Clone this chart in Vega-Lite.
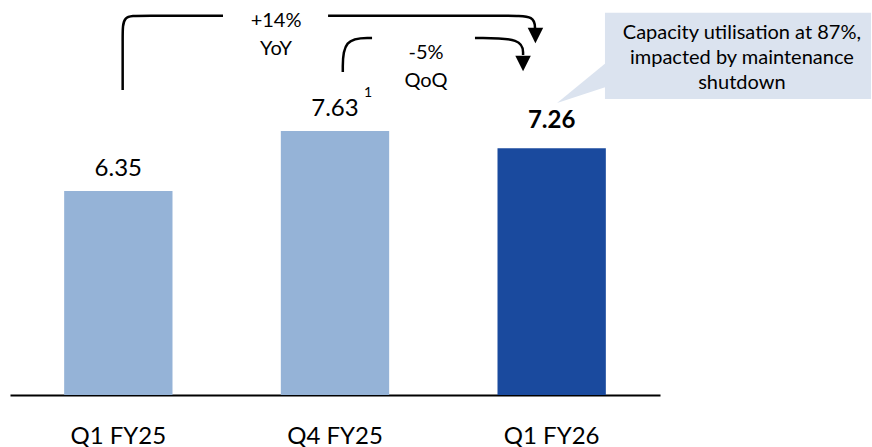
{
  "$schema": "https://vega.github.io/schema/vega-lite/v6.json",
  "width": 650,
  "height": 395,
  "autosize": {"type": "none"},
  "padding": {"left": 10, "top": 0, "right": 212, "bottom": 52},
  "background": "white",
  "config": {"view": {"stroke": null}, "font": "Lato"},
  "datasets": {
    "bars": [
      {"period": "Q1 FY25", "value": 6.35, "kind": "prior", "note": ""},
      {"period": "Q4 FY25", "value": 7.63, "kind": "prior", "note": "1"},
      {"period": "Q1 FY26", "value": 7.26, "kind": "current", "note": ""}
    ],
    "arrows": [
      {"id": "yoyL", "k": 1, "x": 0.020, "y": 8.502},
      {"id": "yoyL", "k": 2, "x": 0.020, "y": 9.674},
      {"id": "yoyL", "k": 3, "x": 0.020, "y": 10.086},
      {"id": "yoyL", "k": 4, "x": 0.100, "y": 10.086},
      {"id": "yoyL", "k": 5, "x": 0.483, "y": 10.086},
      {"id": "yoyR", "k": 1, "x": 0.968, "y": 10.086},
      {"id": "yoyR", "k": 2, "x": 1.808, "y": 10.086},
      {"id": "yoyR", "k": 3, "x": 1.923, "y": 10.086},
      {"id": "yoyR", "k": 4, "x": 1.923, "y": 9.781},
      {"id": "qoqL", "k": 1, "x": 1.036, "y": 8.886},
      {"id": "qoqL", "k": 2, "x": 1.036, "y": 9.610},
      {"id": "qoqL", "k": 3, "x": 1.171, "y": 9.610},
      {"id": "qoqR", "k": 1, "x": 1.646, "y": 9.610},
      {"id": "qoqR", "k": 2, "x": 1.868, "y": 9.610},
      {"id": "qoqR", "k": 3, "x": 1.868, "y": 9.248}
    ],
    "heads": [
      {"id": "yoy", "x": 1.925, "y": 9.664},
      {"id": "qoq", "x": 1.868, "y": 9.067}
    ],
    "box": [{"x": 2.246, "x2": 3.474, "y": 10.150, "y2": 8.310}],
    "pointer": [
      {"x": 2.025, "y": 8.225, "y2": 8.225},
      {"x": 2.250, "y": 9.077, "y2": 8.566}
    ],
    "changes": [
      {"t": "+14%", "x": 0.728, "y": 9.834},
      {"t": "YoY", "x": 0.728, "y": 9.248},
      {"t": "-5%", "x": 1.420, "y": 9.163},
      {"t": "QoQ", "x": 1.420, "y": 8.566}
    ],
    "callout": [
      {"t": "Capacity utilisation at 87%,", "x": 2.878, "y": 9.583},
      {"t": "impacted by maintenance", "x": 2.878, "y": 9.050},
      {"t": "shutdown", "x": 2.878, "y": 8.517}
    ]
  },
  "resolve": {"scale": {"x": "independent"}},
  "layer": [
    {
      "data": {"name": "bars"},
      "encoding": {
        "x": {
          "field": "period",
          "type": "nominal",
          "sort": null,
          "scale": {"paddingInner": 0.5, "paddingOuter": 0.25},
          "axis": {
            "title": null,
            "labelAngle": 0,
            "ticks": false,
            "tickSize": 0,
            "labelPadding": 48,
            "labelBaseline": "alphabetic",
            "labelFont": "Lato",
            "labelFontSize": 24,
            "labelColor": "#000000",
            "domainColor": "#000000",
            "domainWidth": 2,
            "grid": false
          }
        },
        "y": {
          "field": "value",
          "type": "quantitative",
          "scale": {"domain": [2, 10.42], "zero": false, "nice": false},
          "axis": null
        }
      },
      "layer": [
        {
          "mark": {"type": "bar"},
          "encoding": {
            "y2": {"datum": 2},
            "color": {
              "field": "kind",
              "type": "nominal",
              "scale": {"domain": ["prior", "current"], "range": ["#95b3d7", "#1a4a9e"]},
              "legend": null
            }
          }
        },
        {
          "transform": [{"filter": "datum.kind == 'prior'"}],
          "mark": {"type": "text", "dy": -15, "fontSize": 24, "font": "Lato", "color": "#000000", "baseline": "alphabetic"},
          "encoding": {"text": {"field": "value", "type": "quantitative", "format": ".2f"}}
        },
        {
          "transform": [{"filter": "datum.kind == 'current'"}],
          "mark": {"type": "text", "dy": -20, "fontSize": 24, "fontWeight": "bold", "font": "Lato", "color": "#000000", "baseline": "alphabetic"},
          "encoding": {"text": {"field": "value", "type": "quantitative", "format": ".2f"}}
        },
        {
          "transform": [{"filter": "datum.note != ''"}],
          "mark": {"type": "text", "dx": 33, "dy": -34, "fontSize": 14, "font": "Lato", "color": "#000000", "baseline": "alphabetic"},
          "encoding": {"text": {"field": "note", "type": "nominal"}}
        }
      ]
    },
    {
      "layer": [
        {
          "data": {"name": "pointer"},
          "mark": {"type": "area", "orient": "vertical", "color": "#dbe3ef", "opacity": 1},
          "encoding": {
            "x": {"field": "x", "type": "quantitative", "scale": {"domain": [-0.5, 2.5], "zero": false, "nice": false}, "axis": null},
            "y": {"field": "y", "type": "quantitative", "scale": {"domain": [2, 10.42], "zero": false, "nice": false}, "axis": null},
            "y2": {"field": "y2"}
          }
        },
        {
          "data": {"name": "box"},
          "mark": {"type": "rect", "color": "#dbe3ef"},
          "encoding": {
            "x": {"field": "x", "type": "quantitative", "scale": {"domain": [-0.5, 2.5], "zero": false, "nice": false}, "axis": null},
            "x2": {"field": "x2"},
            "y": {"field": "y", "type": "quantitative", "scale": {"domain": [2, 10.42], "zero": false, "nice": false}, "axis": null},
            "y2": {"field": "y2"}
          }
        },
        {
          "data": {"name": "arrows"},
          "mark": {"type": "line", "interpolate": "basis", "color": "#000000", "strokeWidth": 2.5},
          "encoding": {
            "x": {"field": "x", "type": "quantitative", "scale": {"domain": [-0.5, 2.5], "zero": false, "nice": false}, "axis": null},
            "y": {"field": "y", "type": "quantitative", "scale": {"domain": [2, 10.42], "zero": false, "nice": false}, "axis": null},
            "detail": {"field": "id", "type": "nominal"},
            "order": {"field": "k", "type": "quantitative"}
          }
        },
        {
          "data": {"name": "heads"},
          "mark": {"type": "point", "shape": "M-1,-1L1,-1L0,1Z", "filled": true, "color": "#000000", "opacity": 1, "size": 240},
          "encoding": {
            "x": {"field": "x", "type": "quantitative", "scale": {"domain": [-0.5, 2.5], "zero": false, "nice": false}, "axis": null},
            "y": {"field": "y", "type": "quantitative", "scale": {"domain": [2, 10.42], "zero": false, "nice": false}, "axis": null}
          }
        },
        {
          "data": {"name": "changes"},
          "mark": {"type": "text", "fontSize": 20, "font": "Lato", "color": "#000000", "baseline": "alphabetic", "align": "center"},
          "encoding": {
            "x": {"field": "x", "type": "quantitative", "scale": {"domain": [-0.5, 2.5], "zero": false, "nice": false}, "axis": null},
            "y": {"field": "y", "type": "quantitative", "scale": {"domain": [2, 10.42], "zero": false, "nice": false}, "axis": null},
            "text": {"field": "t", "type": "nominal"}
          }
        },
        {
          "data": {"name": "callout"},
          "mark": {"type": "text", "fontSize": 20, "font": "Lato", "color": "#000000", "baseline": "alphabetic", "align": "center"},
          "encoding": {
            "x": {"field": "x", "type": "quantitative", "scale": {"domain": [-0.5, 2.5], "zero": false, "nice": false}, "axis": null},
            "y": {"field": "y", "type": "quantitative", "scale": {"domain": [2, 10.42], "zero": false, "nice": false}, "axis": null},
            "text": {"field": "t", "type": "nominal"}
          }
        }
      ]
    }
  ]
}
